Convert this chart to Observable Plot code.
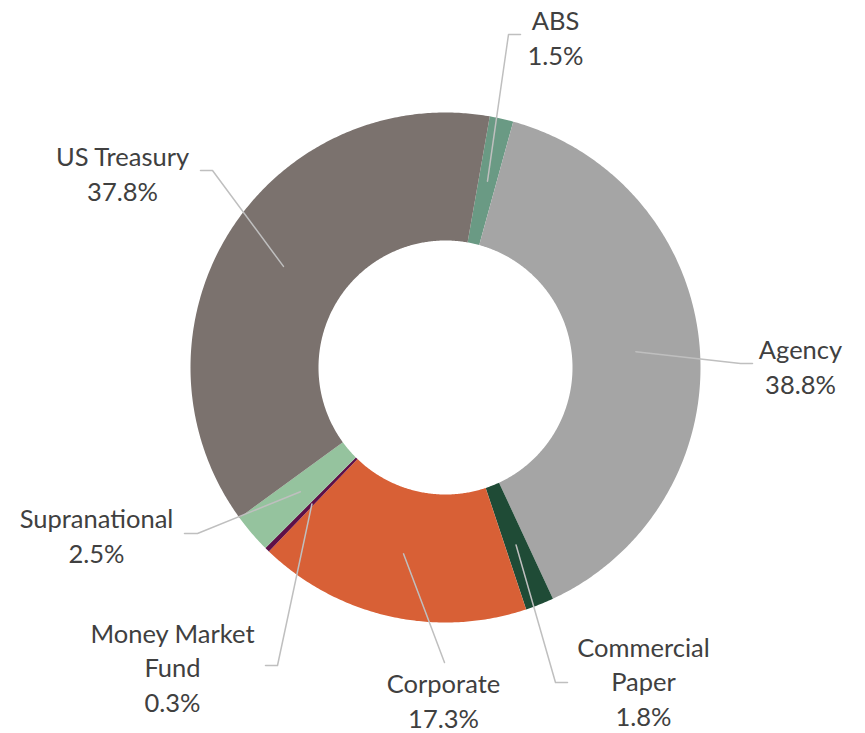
<!DOCTYPE html>
<html><head><meta charset="utf-8">
<script src="https://cdn.jsdelivr.net/npm/d3@7"></script>
<script src="https://cdn.jsdelivr.net/npm/@observablehq/plot@0.6"></script>
<style>body{margin:0;background:#fff}</style>
</head><body><div id="chart"></div>
<script>
// ---- data ----
const categories = ["ABS", "Agency", "Commercial Paper", "Corporate", "Money Market Fund", "Supranational", "US Treasury"];
const shares = [1.5, 38.8, 1.8, 17.3, 0.3, 2.5, 37.8];
const labelNames = ["ABS", "Agency", "Commercial\nPaper", "Corporate", "Money Market\nFund", "Supranational", "US Treasury"];
const colors = ["#6a9a84", "#a5a5a5", "#1f4b36", "#d86036", "#5e1048", "#95c39e", "#7b726e"];

// ---- layout ----
const W = 865, H = 733;
const CX = 445, CY = 367, R_OUT = 255, R_IN = 127, R_LEAD = 191, START = 10;
const labelLayout = [
  {elbow: [508, 34], end: [520, 34], text: [555, 36]},
  {elbow: [740, 363], end: [752, 363], text: [800, 365]},
  {elbow: [555, 682], end: [567, 682], text: [643, 680]},
  {elbow: [444, 662], end: [444, 662], text: [443, 699]},
  {elbow: [277, 665], end: [265, 665], text: [172, 666]},
  {elbow: [197, 533], end: [184, 533], text: [96, 534]},
  {elbow: [212, 170], end: [200, 170], text: [122, 172]}
];

const total = d3.sum(shares);
const pt = (deg, r) => [CX + r * Math.sin(deg * Math.PI / 180), CY - r * Math.cos(deg * Math.PI / 180)];

const slicePts = [], leadPts = [], labels = [];
let acc = 0;
categories.forEach((name, i) => {
  const a0 = START + acc / total * 360;
  acc += shares[i];
  const a1 = START + acc / total * 360;
  const n = Math.max(2, Math.ceil((a1 - a0) / 0.5));
  for (let k = 0; k <= n; k++) { const [x, y] = pt(a0 + (a1 - a0) * k / n, R_OUT); slicePts.push({name, x, y}); }
  for (let k = n; k >= 0; k--) { const [x, y] = pt(a0 + (a1 - a0) * k / n, R_IN); slicePts.push({name, x, y}); }
  const mid = (a0 + a1) / 2;
  const [sx, sy] = pt(mid, R_LEAD);
  const L = labelLayout[i];
  leadPts.push({name, x: sx, y: sy}, {name, x: L.elbow[0], y: L.elbow[1]}, {name, x: L.end[0], y: L.end[1]});
  labels.push({name, text: labelNames[i] + "\n" + shares[i].toFixed(1) + "%", x: L.text[0], y: L.text[1]});
});

const chart = Plot.plot({
  width: W, height: H, margin: 0,
  x: {domain: [0, W], range: [0, W], axis: null},
  y: {domain: [0, H], range: [0, H], axis: null},
  color: {domain: categories, range: colors},
  marks: [
    Plot.line(slicePts, {x: "x", y: "y", z: "name", fill: "name", stroke: "none", curve: "linear-closed"}),
    Plot.line(leadPts, {x: "x", y: "y", z: "name", stroke: "#bfbfbf", strokeWidth: 1.5}),
    Plot.text(labels, {x: "x", y: "y", text: "text", fill: "#404040", fontSize: 25.5, lineHeight: 1.34,
      lineAnchor: "middle", textAnchor: "middle", fontFamily: "Lato"})
  ]
});
document.getElementById("chart").appendChild(chart);
</script>
</body></html>
